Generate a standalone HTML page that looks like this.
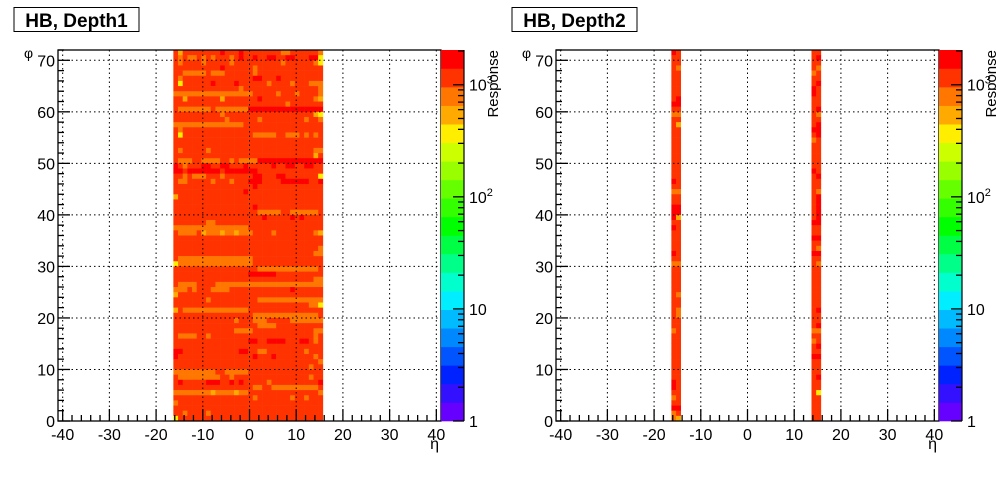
<!DOCTYPE html>
<html><head><meta charset="utf-8">
<style>
html,body{margin:0;padding:0;background:#fff;}
body{width:996px;height:472px;overflow:hidden;font-family:"Liberation Sans",Arial,sans-serif;}
svg text{font-family:"Liberation Sans",Arial,sans-serif;}
</style></head>
<body>
<svg id="chart" width="996" height="472" viewBox="0 0 996 472" xmlns="http://www.w3.org/2000/svg"></svg>
<script>
// ----- data -----
const levelCodes = ['r','b','o','a','y'];
const levelValues = [1800, 1200, 800, 550, 380];
const etaDepth1 = [-16,-15,-14,-13,-12,-11,-10,-9,-8,-7,-6,-5,-4,-3,-2,-1,1,2,3,4,5,6,7,8,9,10,11,12,13,14,15,16];
const etaDepth2 = [-16,-15,15,16];
const depth1Rows = [
"babbbbbbbbrbbbrbbbbbbbboobbbbbbo",
"boboobobobbbobrbbrbbrrbbrrbbbrry",
"bobbbbobbbbbobbbbbbbbbbobbbbbboy",
"bbbbbbbbbbrbbbbbbobbbbbbbbbbbbbb",
"bbooooobooobbbbbbobbbbbbbbbbbbbb",
"bobbbbbbbbbbbbbbbrrbbbrbbbbbbbbb",
"bybbbbbbrbbbbrbbbbbbobbbbobbbooo",
"bbbbbbbbbbbbbbobbbbbbbbbbbbbbbbo",
"ooooooooooooooooobbbbbobbbobbbbo",
"bbabbbbbbbabbbbbbbrbbbbbbbbbbboa",
"bbbbbbbbbbbbbbbbbbbbbbbbobbbbbbb",
"booooooobooooooorrrrrrrrrrrrrrrr",
"bbbbbbbbbbobbbbbbbbbbbbbbbbbbbay",
"bbbbbbbbbbbobbbbbbobbbbbbbbbobbo",
"ooooooooooooooobbbbbbbbbbbbbbbbb",
"bobbbbbbbbbbbbbbbbbbbbbbbbbbbbbb",
"bybbbbbbbbbbbbbbbooooobbooobobob",
"bbbbbbbbbbbbbbbbbbbbbbbbbbbbbbbb",
"bbbbbbbbbbbbbbbbbbbbbbbbbbbbbbbb",
"bobbbbbobbbbbbbbbbbbbbbbbbbbbboo",
"bbbbbbbbbbbbbbbbbbbbbbbbbbbbbbab",
"booobboooobboboooorrrrrrrrrrrrrr",
"rbobbbrrbbrrbbbrbbbbbrbbrrbbrrbb",
"rrbrrrrrrrbrrrrrrrbbbbbbbbbbbbbb",
"bbobooobbbobbbbbbrrbbbrrbbbbbbby",
"boobbbbbobbbobbbrrrbbbbrrrrrrbbr",
"bbbbbbbbbbbbbbbbbrbbbbbbbbbbbbbb",
"bbbbbbbbbbbbbbbrbbbbbbbbbbbbbbbb",
"abbbbbbbbbbbbbbbbbbbbbbbbbbbbbbb",
"bbbbbbbbbbbbbbbbbbbbbbbbbbbbbbbb",
"bbbbbbbbbbbbbbbbbrbbbbbbbbbbbbbb",
"bbbbbbbbbbbbbbbbbbooooobboooooob",
"bbbbbbbbbbbbbbbbbbbrbbbbbrbrbbbb",
"bbbbbbboobbbbbbbbbbbbbbbbbbbbbbb",
"oooooooooooooooobbbbbbbbbbbbbbbb",
"boooobaoooaooaooobbbbobbbbbbbboa",
"bbbbbbbbbbbbbbbbbbbbbbbbbbbbbbbb",
"bbbbbbbbbbbbbbbbbbbbbbbbbbbbbbbb",
"bbbbbbbbbbbbbbbbbbbbbbbbbbbbbbbo",
"bbbbbbbbbbbbbbbbbbbbbbbbbbbbbboo",
"boooooooooooooooobbbbbbbbbbbbbbb",
"yoooooooooooooooobbbbbbbbbbbbbbb",
"bbbbbbbbbbbbbbbbbbooooooooooooob",
"bbbbbbbbbbbbbbbbrrrrrrbbbbbbbbbb",
"bbbbbbbbbbbbbbbbbbbbbbbbbbbbbboo",
"boooobbbbooooooooooooooooooooooo",
"ooobobbboooobbbbbbbbbbbbbrbbbbbb",
"abbbbbbbbbbbbbbbbbbbbbbbbbbbbbbb",
"bbbbbbbobbbbbbbbbboooooooooooooo",
"bbbbbbbbbbbbbbbbbbbbbbbbbbbbbooy",
"aboooooooooooooobbbbbbbbbbbbbbbb",
"bbbbbbbbbbbbbbbbboooooooooooooob",
"bbbbbbbbbbbbbobbbooobbbbbooooooo",
"bbbbbbbbbbbbbbbbbboooobbbbbbbbbb",
"bbbbbbbbbbbbboooobbbbbbbbbbbbboo",
"boooobbobbbbbbbbbbbbbbbbbbbbbbob",
"bbbbbbbbbbbbbbbbrrbbrrrrbbbrrbob",
"bbbbbbbbbbbbbbbbbbbbbbbbbbbbbbbb",
"rrbbbbbbbbbbbbrrbboobbbbbbbbobbb",
"rbbbbbbbbbbbbbbbbrbbbrbbbbbbbbob",
"bbbbbbbbbbbbbbbbbbbbbbbbbbbbbbbo",
"bbbbbbbbbbbbbbbbbbbbbbbbbbbbbobb",
"ooooooooobbooooobbbbbbbbbbbbbbbb",
"booooooooobbobbbbbbbbbbbbbbbbobb",
"brbbbbbrrrbbrbrbbbbbobbbbbbbbbbr",
"bbbbbbbbbbbbbbbbboobboooooooooob",
"ooooooooaooooaoobbbbbbbbbbbbbbbo",
"bbbbbbbbbbbbbbbbbobbbbbbbobbobbb",
"obbbbbbbbbbbbbbbbbbbbbbbbbbbbbbb",
"bbbbbbbbbbbbbbbbbbbbbbbbbbbbbbbb",
"bbobbbbobbbbbbbbbbbbbbbbbbbbbbbb",
"ybbbbbbbbbbbbbbbbbbbbbbbbbbbbbbb"
];
const depth2Rows = [
"rbbb","bbbr","bbbb","bobo","bbob","bbbb","bbbr","bbrb","bbrb","brbb",
"rrbb","bbbr","oobo","bbbb","babr","bbrr","bbbr","bbob","bbbb","bbbb",
"bbbb","bbbb","bbbb","bbrb","bbbr","rbbb","bbbb","oobo","bbbr","bbbr",
"rrbr","rrbr","rabr","bbrr","rbbb","bbbb","bbrr","bbbb","bbbo","rbrr",
"bbbb","oobo","bbbb","bbbb","bbbb","bbbb","bbbb","bobb","bbbb","bbbb",
"bobr","bobb","bbbb","bbbr","oboo","bbbb","bbob","bbbr","bbbb","bbrr",
"bbbb","bbbb","bbbb","bbbr","rbbb","rbbb","bbby","obbb","bbbb","rrbb",
"obbb","oabb"
];
const paletteColors = ["#6600ff","#3311ff","#0022ff","#0055ff","#0088ff","#00bbff","#00eeff","#00ffcc","#00ff88","#00ff44","#00ff00","#33ff00","#66ff00","#99ff00","#ccff00","#ffee00","#ffaa00","#ff7700","#ff3300","#ff0000"];
const zLogMax = 3.31;
const xTicks = [-40,-30,-20,-10,0,10,20,30,40];
const yTicks = [0,10,20,30,40,50,60,70];
const zTickLabels = ["1","10","10^2","10^3"];

// ----- drawing -----
const NS = "http://www.w3.org/2000/svg";
const svg = document.getElementById('chart');
function mk(tag, attrs, parent){
  const e = document.createElementNS(NS, tag);
  for (const k in attrs) e.setAttribute(k, attrs[k]);
  (parent||svg).appendChild(e);
  return e;
}
const X0 = -41, X1 = 41, Y0 = 0, Y1 = 72, FT = 50, FB = 421, FW = 383;

function drawPanel(ox, title, titleW, etas, rows, pid){
  const g = mk('g', {});
  
  
  const L = ox, R = ox + FW;
  const xs = v => L + (v - X0) / (X1 - X0) * FW;
  const ys = v => FB - (v - Y0) / (Y1 - Y0) * (FB - FT);
  const colorOf = v => { let i = Math.floor(Math.log10(v) / zLogMax * paletteColors.length); i = Math.max(0, Math.min(paletteColors.length-1, i)); return paletteColors[i]; };
  const cg = mk('g', {}, g);
  
  
  const allEta = etaDepth1;
  rows.forEach((row, ri) => {
    const phi = 72 - ri;
    for (let ci = 0; ci < etas.length; ci++) {
      const idx = levelCodes.indexOf(row[ci]);
      const val = levelValues[idx < 0 ? 1 : idx];
      const k = allEta.indexOf(etas[ci]);
      const xa = -16.3 + k, xb = xa + 1;
      const c = mk('rect', {x: xs(xa).toFixed(2), y: ys(phi).toFixed(2), width: (xs(xb)-xs(xa)+0.3).toFixed(2), height: (ys(phi-1)-ys(phi)+0.3).toFixed(2), fill: colorOf(val)}, cg);
      
      
    }
  });
  xTicks.forEach(t => { const gl = mk('line', {x1: xs(t), x2: xs(t), y1: FT, y2: FB, stroke: '#000', 'stroke-width': 1, 'stroke-dasharray': '1.5,3'}, g);   });
  yTicks.forEach(t => { const gl = mk('line', {x1: L, x2: R, y1: ys(t), y2: ys(t), stroke: '#000', 'stroke-width': 1, 'stroke-dasharray': '1.5,3'}, g);   });
  for (let t = -40; t <= 40; t += 2) {
    const len = t % 10 === 0 ? 12 : 6;
    const tk = mk('line', {x1: xs(t), x2: xs(t), y1: FB, y2: FB - len, stroke: '#000', 'stroke-width': 1.3}, g);
     
  }
  for (let t = 0; t <= 72; t += 2) {
    const len = t % 10 === 0 ? 12 : 6;
    const tk = mk('line', {x1: L, x2: L + len, y1: ys(t), y2: ys(t), stroke: '#000', 'stroke-width': 1.3}, g);
     
  }
  xTicks.forEach(t => { const tl = mk('text', {x: xs(t), y: 440, 'text-anchor': 'middle', 'font-size': 16, fill: '#000'}, g); tl.textContent = String(t);   });
  yTicks.forEach(t => { const tl = mk('text', {x: L - 3, y: ys(t) + 6, 'text-anchor': 'end', 'font-size': 16, fill: '#000'}, g); tl.textContent = String(t);   });
  const fr = mk('rect', {x: L, y: FT, width: FW, height: FB - FT, fill: 'none', stroke: '#000', 'stroke-width': 1.3}, g);
   
  const xt = mk('text', {x: R - 2, y: 449, 'text-anchor': 'end', 'font-size': 16}, g); xt.textContent = 'η';
   
  const yt = mk('text', {x: L - 34, y: 58, 'text-anchor': 'start', 'font-size': 14}, g); yt.textContent = 'φ';
   
  const pg = mk('g', {}, g);
   
  const PL = R, PW = 23, bh = (FB - FT) / paletteColors.length;
  paletteColors.forEach((c, i) => { const pr = mk('rect', {x: PL, y: FB - (i+1)*bh, width: PW, height: bh + 0.3, fill: c}, pg);   });
  const zs = lv => FB - lv / zLogMax * (FB - FT);
  for (let d = 0; d < 4; d++) for (let m = 1; m <= 9; m++) {
    const lv = d + Math.log10(m); if (lv > zLogMax) continue;
    const len = m === 1 ? 11 : 6;
    const tk = mk('line', {x1: PL + PW, x2: PL + PW - len, y1: zs(lv), y2: zs(lv), stroke: '#000', 'stroke-width': 1.3}, pg);
     
  }
  const pb = mk('line', {x1: PL + PW, x2: PL + PW, y1: FT, y2: FB, stroke: '#000', 'stroke-width': 1.2}, pg);
   
  zTickLabels.forEach((s, d) => {
    const tl = mk('text', {x: PL + PW + 5, y: zs(d) + 6, 'font-size': 16}, pg);
     
    const parts = s.split('^');
    tl.textContent = parts[0];
    if (parts[1]) { const sp = mk('tspan', {dy: -7, 'font-size': 11}, tl); sp.textContent = parts[1]; }
  });
  const zt = mk('text', {x: 0, y: 0, 'font-size': 15, 'text-anchor': 'end', transform: `translate(${PL + PW + 34},${FT}) rotate(-90)`}, pg);
  zt.textContent = 'Response';
   
  const tb = mk('rect', {x: ox - 44, y: 7.5, width: titleW, height: 24, fill: '#fff', stroke: '#000', 'stroke-width': 1}, g);
   
  const tt = mk('text', {x: ox - 44 + titleW/2, y: 27, 'text-anchor': 'middle', 'font-size': 19, 'font-weight': 'bold'}, g);
  tt.textContent = title;
   
}
drawPanel(58, 'HB, Depth1', 125, etaDepth1, depth1Rows, 'depth1');
drawPanel(556, 'HB, Depth2', 125, etaDepth2, depth2Rows, 'depth2');
</script>
</body></html>
